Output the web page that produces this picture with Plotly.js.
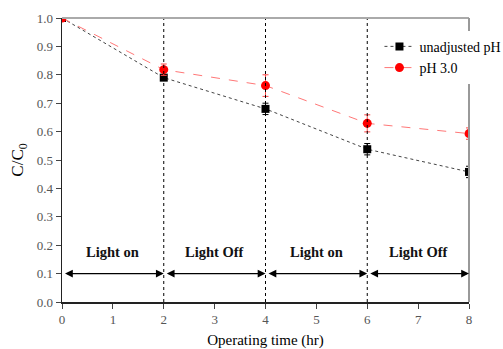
<!DOCTYPE html>
<html><head><meta charset="utf-8">
<script src="https://cdn.plot.ly/plotly-3.0.1.min.js"></script>
<style>body{margin:0;background:#fff}#c{width:503px;height:349px}</style>
</head><body><div id="c"></div>
<script>
const time = [0, 2, 4, 6, 8];
const unadjusted = [1.0, 0.79, 0.68, 0.538, 0.458];
const unadjustedErr = [0, 0.01, 0.02, 0.02, 0.02];
const ph3 = [1.0, 0.818, 0.762, 0.629, 0.593];
const ph3Err = [0, 0.02, 0.038, 0.03, 0.02];
const phaseBounds = [0, 2, 4, 6, 8];
const phaseLabels = ["Light on", "Light Off", "Light on", "Light Off"];
const arrowLevel = 0.1;
const labelLevel = 0.175;
const xTicks = [0,1,2,3,4,5,6,7,8];
const yTicks = [0,0.1,0.2,0.3,0.4,0.5,0.6,0.7,0.8,0.9,1.0];

const serif = "Liberation Serif";

const traces = [
  {x: time, y: unadjusted, name: "unadjusted pH", mode: "lines+markers",
   line: {color: "#444", width: 1, dash: "dot"},
   marker: {symbol: "square", size: 8, color: "#000"},
   error_y: {type: "data", array: unadjustedErr, visible: true, color: "#000", thickness: 1, width: 3}},
  {x: time, y: ph3, name: "pH 3.0", mode: "lines+markers",
   line: {color: "#ff7777", width: 1, dash: "dash"},
   marker: {symbol: "circle", size: 9, color: "#ff0000"},
   error_y: {type: "data", array: ph3Err, visible: true, color: "#ff4444", thickness: 1, width: 3}}
];

const shapes = [];
phaseBounds.slice(1, -1).forEach(b => shapes.push({type: "line", xref: "x", yref: "y", x0: b, x1: b, y0: 0, y1: 1,
  line: {color: "#000", width: 1, dash: "dot"}}));
shapes.push({type: "line", xref: "paper", yref: "paper", x0: 0, x1: 1, y0: 1, y1: 1, line: {color: "#aaa", width: 2}});
shapes.push({type: "line", xref: "paper", yref: "paper", x0: 1, x1: 1, y0: 0, y1: 1, line: {color: "#999", width: 2}});

const annotations = [];
for (let i = 0; i < phaseLabels.length; i++) {
  const a = phaseBounds[i], b = phaseBounds[i+1];
  annotations.push({x: b, y: arrowLevel, ax: a, ay: arrowLevel, xref: "x", yref: "y", axref: "x", ayref: "y",
    text: " ", showarrow: true, arrowside: "end+start", arrowhead: 2, arrowsize: 1.2, arrowwidth: 1.3, arrowcolor: "#000"});
  annotations.push({x: (a + b) / 2, y: labelLevel, xref: "x", yref: "y", text: "<b>" + phaseLabels[i] + "</b>",
    showarrow: false, font: {family: serif, size: 14.5, color: "#111"}});
}

const layout = {
  width: 503, height: 349,
  margin: {l: 62, r: 34, t: 18, b: 47, autoexpand: false},
  paper_bgcolor: "#fff", plot_bgcolor: "#fff",
  font: {family: serif, color: "#000"},
  showlegend: true,
  legend: {x: 0.78, y: 0.955, xanchor: "left", yanchor: "top",
    bgcolor: "rgba(255,255,255,1)", font: {family: serif, size: 14, color: "#000"}, tracegroupgap: 0, itemwidth: 30},
  xaxis: {range: [0, 8], tickvals: xTicks, ticktext: xTicks.map(String), ticks: "outside", ticklen: 5,
    showline: true, linecolor: "#222", linewidth: 1.5, showgrid: false, zeroline: false, automargin: false,
    tickfont: {family: serif, size: 13, color: "#555"},
    title: {text: "Operating time (hr)", font: {family: serif, size: 15, color: "#000"}, standoff: 15}},
  yaxis: {range: [0, 1.0], tickvals: yTicks, ticktext: yTicks.map(v => v.toFixed(1)), ticks: "outside", ticklen: 5,
    showline: true, linecolor: "#222", linewidth: 1.5, showgrid: false, zeroline: false, automargin: false,
    tickfont: {family: serif, size: 13, color: "#555"},
    title: {text: "C/C<sub>0</sub>", font: {family: serif, size: 17, color: "#000"}, standoff: 8}},
  shapes: shapes,
  annotations: annotations
};
Plotly.newPlot("c", traces, layout, {displayModeBar: false, staticPlot: true});
</script></body></html>
